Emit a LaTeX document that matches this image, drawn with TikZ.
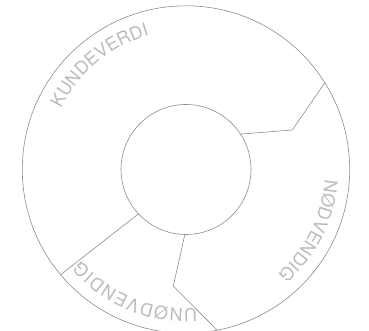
\documentclass[tikz,border=0pt]{standalone}
\usepackage{fontspec}
\setmainfont{TeX Gyre Heros}
\usetikzlibrary{decorations.text}
\definecolor{linegray}{HTML}{8C8C8C}
\definecolor{textgray}{HTML}{BBBBBB}
\newcommand{\arclabelfont}{\fontsize{18}{18}\selectfont\color{textgray}}
\begin{document}
\begin{tikzpicture}[x=1pt,y=1pt,
  ring/.style={circle,draw=linegray,line width=0.6pt,inner sep=0pt,outer sep=0pt},
  divider/.style={draw=linegray,line width=0.6pt,line join=miter},
  arclabel/.style={decorate,decoration={text along path,text align={fit to path},text={|\arclabelfont|#1}}}]
\useasboundingbox (0,0) rectangle (369,331);
\coordinate (c) at (186,161.5);
\node[ring,minimum size=327.4pt] (outer) at (c) {};
\node[ring,minimum size=130pt] (inner) at (c) {};
\coordinate (m1) at (292.3,201);
\coordinate (m3) at (173.3,45);
\draw[divider] (inner.33.5) -- (m1) -- (outer.32);
\draw[divider] (inner.223.7) -- (outer.220.8);
\draw[divider] (inner.-91.5) -- (m3) -- (outer.-79.8);
\path[arclabel={KUNDEVERDI}] (c) ++(154:139pt) arc[start angle=154,end angle=106,radius=139pt];
\path[arclabel={NØDVENDIG}] (c) ++(-4:139pt) arc[start angle=-4,end angle=-47,radius=139pt];
\path[arclabel={UNØDVENDIG}] (c) ++(-85.5:139pt) arc[start angle=-85.5,end angle=-139,radius=139pt];
\end{tikzpicture}
\end{document}
